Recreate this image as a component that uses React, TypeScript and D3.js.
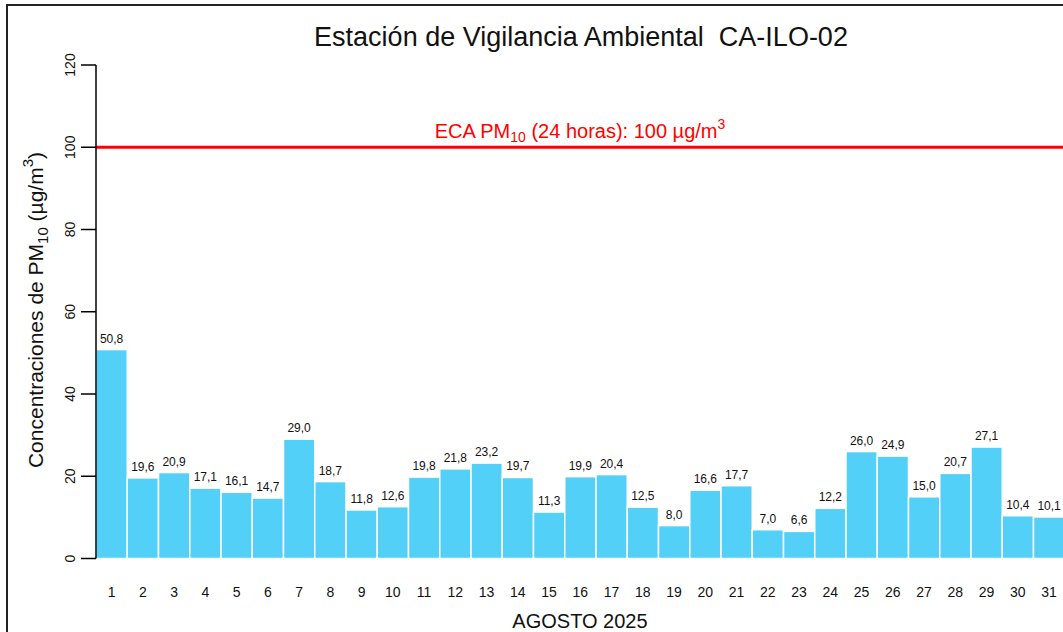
import React from 'react';
import * as d3 from 'd3';

const days = d3.range(1, 32).map(String);
const pm10 = [50.8, 19.6, 20.9, 17.1, 16.1, 14.7, 29.0, 18.7, 11.8, 12.6, 19.8, 21.8, 23.2, 19.7, 11.3,
  19.9, 20.4, 12.5, 8.0, 16.6, 17.7, 7.0, 6.6, 12.2, 26.0, 24.9, 15.0, 20.7, 27.1, 10.4, 10.1];
const yTicks = [0, 20, 40, 60, 80, 100, 120];
const limite = 100;

const font = 'Arial, "Liberation Sans", sans-serif';

export default function App() {
  const x = d3.scaleBand().domain(days).range([96, 96 + 31.25 * 31]).padding(0);
  const y = d3.scaleLinear().domain([0, 120]).range([558.5, 65]);
  const fmt = (v: number) => v.toFixed(1).replace('.', ',');

  return (
    <svg width={1063} height={632} style={{ position: 'absolute', left: 0, top: 0, background: '#fff' }}
      fontFamily={font}>
      <rect x={7} y={5} width={1100} height={700} fill="none" stroke="#222" strokeWidth={2} />

      <text x={581} y={46} fontSize={27} textAnchor="middle" fill="#111">
        Estación de Vigilancia Ambiental{'\u00a0\u00a0'}CA-ILO-02
      </text>

      {/* bars */}
      {pm10.map((v, i) => (
        <rect key={i} x={x(days[i])!} y={y(v)} width={x.bandwidth()} height={y(0) - y(v)}
          fill="#52D0F7" stroke="#fff" strokeWidth={1.5} />
      ))}
      {pm10.map((v, i) => (
        <text key={'l' + i} x={x(days[i])! + x.bandwidth() / 2} y={y(v) - 7} fontSize={12}
          textAnchor="middle" fill="#111">{fmt(v)}</text>
      ))}

      {/* ECA line */}
      <line x1={96} x2={1063} y1={y(limite)} y2={y(limite)} stroke="#ff0000" strokeWidth={3} />
      <text x={580} y={138} fontSize={20} textAnchor="middle" fill="#ff0000">
        ECA PM<tspan fontSize={14} dy={4}>10</tspan><tspan dy={-4}> (24 horas): 100 µg/m</tspan>
        <tspan fontSize={14} dy={-9}>3</tspan>
      </text>

      {/* y axis */}
      <line x1={96} x2={96} y1={y(0)} y2={y(120)} stroke="#000" strokeWidth={1.5} />
      {yTicks.map(t => (
        <g key={t}>
          <line x1={81} x2={96} y1={y(t)} y2={y(t)} stroke="#000" strokeWidth={1.5} />
          <text transform={`translate(75,${y(t)}) rotate(-90)`} fontSize={14} textAnchor="middle" fill="#111">{t}</text>
        </g>
      ))}

      {/* x labels */}
      {days.map(d => (
        <text key={d} x={x(d)! + x.bandwidth() / 2} y={597} fontSize={14} textAnchor="middle" fill="#111">{d}</text>
      ))}
      <text x={580} y={628} fontSize={20} textAnchor="middle" fill="#111">AGOSTO 2025</text>

      <text transform="translate(43,310) rotate(-90)" fontSize={21} textAnchor="middle" fill="#111">
        Concentraciones de PM<tspan fontSize={15} dy={5}>10</tspan><tspan dy={-5}> (µg/m</tspan>
        <tspan fontSize={15} dy={-10}>3</tspan><tspan dy={10}>)</tspan>
      </text>
    </svg>
  );
}
